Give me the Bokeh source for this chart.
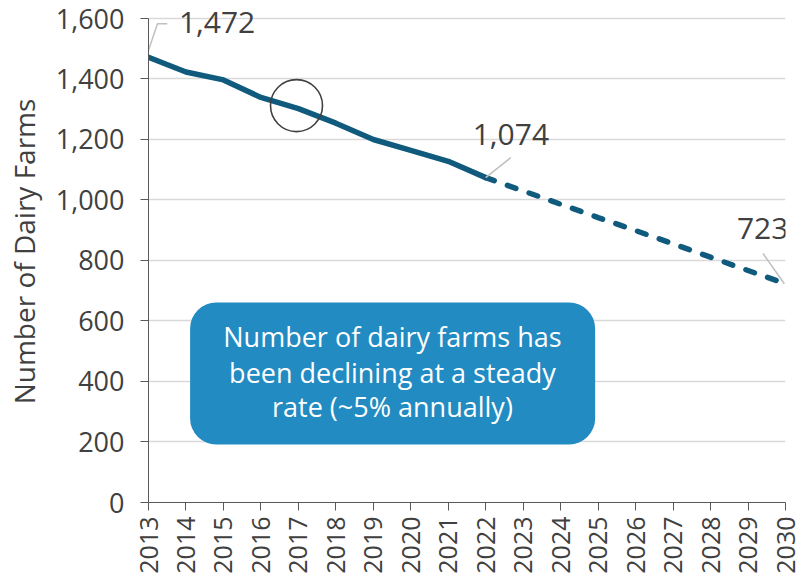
from bokeh.plotting import figure
from bokeh.models import (Range1d, FixedTicker, NumeralTickFormatter,
                          BoxAnnotation, Label)
from bokeh.embed import file_html
from bokeh.resources import INLINE
import math

# Dairy farm counts: recorded history and projection
hist_years = [2013, 2014, 2015, 2016, 2017, 2018, 2019, 2020, 2021, 2022]
hist_farms = [1472, 1423, 1397, 1339, 1302, 1254, 1200, 1164, 1128, 1074]
proj_years = [2022, 2023, 2024, 2025, 2026, 2027, 2028, 2029, 2030]
proj_farms = [1074, 1030, 986, 942, 899, 855, 811, 767, 723]

y_ticks = [0, 200, 400, 600, 800, 1000, 1200, 1400, 1600]
x_ticks = list(range(2013, 2031))

note_lines = ["Number of dairy farms has",
              "been declining at a steady",
              "rate (~5% annually)"]

FONT = "Open Sans"
LINE = "#105A7E"
TXT = "#404040"
AX = "#595959"

# the frame reaches the top of the page so the top call-out has room;
# the axis line itself stops at 1,600
p = figure(width=800, height=587, output_backend="svg", toolbar_location=None,
           x_range=Range1d(2013, 2030), y_range=Range1d(0, 1659.5),
           min_border_left=148, min_border_right=15,
           min_border_top=0, min_border_bottom=85)
p.outline_line_color = None
p.background_fill_color = "white"
p.border_fill_color = "white"

# grid
p.xgrid.grid_line_color = None
p.ygrid.grid_line_color = "#D9D9D9"
p.ygrid.grid_line_width = 1.5
p.ygrid.ticker = FixedTicker(ticks=y_ticks)

# y axis
ya = p.yaxis[0]
ya.bounds = (0, 1600)
ya.ticker = FixedTicker(ticks=y_ticks)
ya.formatter = NumeralTickFormatter(format="0,0")
ya.axis_label = "Number of Dairy Farms"
ya.axis_label_text_font = FONT
ya.axis_label_text_font_size = "28px"
ya.axis_label_text_font_style = "normal"
ya.axis_label_text_color = TXT
ya.axis_label_standoff = 10
ya.major_label_text_font = FONT
ya.major_label_text_font_size = "27px"
ya.major_label_text_color = TXT
ya.major_label_standoff = 16
ya.major_tick_out = 8
ya.major_tick_in = 0
ya.minor_tick_out = 0
ya.minor_tick_in = 0
ya.axis_line_color = AX
ya.major_tick_line_color = AX

# x axis
xa = p.xaxis[0]
xa.ticker = FixedTicker(ticks=x_ticks)
xa.major_label_orientation = math.pi / 2
xa.major_label_text_font = FONT
xa.major_label_text_font_size = "25px"
xa.major_label_text_color = TXT
xa.major_label_standoff = 6
xa.major_tick_out = 8
xa.major_tick_in = 0
xa.minor_tick_out = 0
xa.minor_tick_in = 0
xa.axis_line_color = AX
xa.major_tick_line_color = AX

# series
p.line(hist_years, hist_farms, line_color=LINE, line_width=5.5,
       line_join="round", line_cap="round")
p.line(proj_years, proj_farms, line_color=LINE, line_width=5.5,
       line_dash="9 14", line_cap="round")

# callout box
box = BoxAnnotation(left=2014.11, right=2024.92, bottom=192, top=661,
                    fill_color="#228BC2", fill_alpha=1.0,
                    line_color=None, border_radius=26)
p.add_layout(box)
for txt, yy in zip(note_lines, [548, 431, 318]):
    p.add_layout(Label(x=2019.51, y=yy, text=txt, text_align="center",
                       text_baseline="alphabetic", text_font=FONT,
                       text_font_size="27px", text_color="white"))

# highlight ring
p.scatter([2016.95], [1312], size=52, fill_color=None,
          line_color=TXT, line_width=1.6)

# value call-outs with leader lines
LEAD = "#BFBFBF"
p.line([2013.0, 2013.24, 2013.5], [1495, 1583, 1583],
       line_color=LEAD, line_width=1.5)
p.line([2022.0, 2022.67], [hist_farms[-1], 1140],
       line_color=LEAD, line_width=1.5)
p.line([2029.4, 2029.97], [823, proj_farms[-1]],
       line_color=LEAD, line_width=1.5)

for xx, yy, v in [(2014.83, 1588, hist_farms[0]),
                  (2022.67, 1218, hist_farms[-1]),
                  (2029.39, 906, proj_farms[-1])]:
    p.add_layout(Label(x=xx, y=yy, text=f"{v:,}", text_align="center",
                       text_baseline="alphabetic", text_font=FONT,
                       text_font_size="30px", text_color=TXT))

open("out.html", "w").write(file_html(p, INLINE))
